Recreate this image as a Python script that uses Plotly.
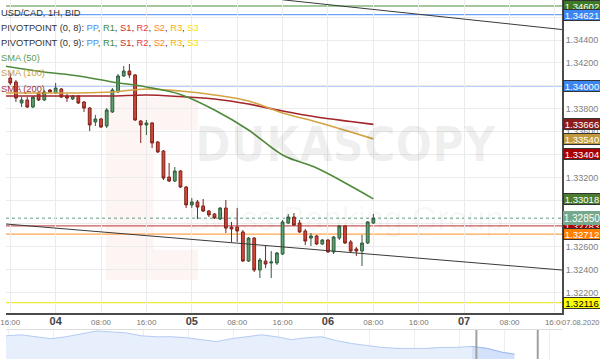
import plotly.graph_objects as go
import pandas as pd

# ---------------- data ----------------
candle_start = "2020-08-03 16:00"
open_ = [1.34069, 1.34035, 1.33852, 1.33878, 1.33817, 1.33939, 1.33878, 1.33965, 1.33939, 1.33974,
         1.33913, 1.33887, 1.33913, 1.33861, 1.33808, 1.33687, 1.33713, 1.33652, 1.33774, 1.33948,
         1.34087, 1.34130, 1.34096, 1.33695, 1.33661, 1.33678, 1.33513, 1.33434, 1.33208, 1.33173,
         1.33260, 1.33121, 1.32965, 1.32991, 1.32956, 1.32912, 1.32886, 1.32843, 1.32938, 1.32773,
         1.32773, 1.32730, 1.32477, 1.32677, 1.32399, 1.32477, 1.32460, 1.32460, 1.32538, 1.32808,
         1.32860, 1.32808, 1.32738, 1.32677, 1.32695, 1.32625, 1.32660, 1.32556, 1.32677, 1.32782,
         1.32643, 1.32582, 1.32564, 1.32634, 1.32808]
high = [1.34113, 1.34052, 1.33904, 1.33904, 1.33913, 1.33948, 1.33965, 1.33974, 1.34026, 1.33982,
        1.33930, 1.33922, 1.33922, 1.33869, 1.33817, 1.33748, 1.33722, 1.33808, 1.33982, 1.34104,
        1.34174, 1.34191, 1.34104, 1.33704, 1.33704, 1.33687, 1.33521, 1.33443, 1.33330, 1.33295,
        1.33269, 1.33130, 1.33025, 1.33008, 1.33017, 1.32921, 1.32895, 1.32947, 1.33008, 1.32817,
        1.32938, 1.32747, 1.32686, 1.32686, 1.32504, 1.32616, 1.32564, 1.32556, 1.32834, 1.32886,
        1.32895, 1.32834, 1.32756, 1.32721, 1.32704, 1.32669, 1.32669, 1.32695, 1.32790, 1.32790,
        1.32660, 1.32599, 1.32704, 1.32825, 1.32886]
low = [1.34008, 1.33861, 1.33817, 1.33808, 1.33808, 1.33869, 1.33869, 1.33939, 1.33930, 1.33895,
       1.33861, 1.33878, 1.33843, 1.33774, 1.33608, 1.33652, 1.33634, 1.33634, 1.33765, 1.33939,
       1.34078, 1.34069, 1.33695, 1.33504, 1.33573, 1.33460, 1.33417, 1.33182, 1.33165, 1.33165,
       1.33112, 1.32938, 1.32938, 1.32843, 1.32904, 1.32860, 1.32843, 1.32834, 1.32721, 1.32643,
       1.32643, 1.32469, 1.32469, 1.32382, 1.32329, 1.32416, 1.32329, 1.32443, 1.32530, 1.32799,
       1.32782, 1.32721, 1.32616, 1.32608, 1.32616, 1.32616, 1.32547, 1.32538, 1.32660, 1.32625,
       1.32547, 1.32521, 1.32434, 1.32625, 1.32799]
close = [1.34026, 1.33895, 1.33878, 1.33817, 1.33904, 1.33878, 1.33948, 1.33948, 1.33982, 1.33904,
         1.33895, 1.33913, 1.33852, 1.33808, 1.33661, 1.33713, 1.33643, 1.33791, 1.33965, 1.34087,
         1.34130, 1.34096, 1.33704, 1.33661, 1.33678, 1.33504, 1.33426, 1.33199, 1.33173, 1.33260,
         1.33121, 1.32965, 1.32991, 1.32947, 1.32912, 1.32878, 1.32852, 1.32938, 1.32764, 1.32756,
         1.32738, 1.32477, 1.32677, 1.32399, 1.32486, 1.32451, 1.32469, 1.32547, 1.32817, 1.32860,
         1.32790, 1.32730, 1.32651, 1.32695, 1.32625, 1.32660, 1.32556, 1.32686, 1.32782, 1.32634,
         1.32564, 1.32564, 1.32634, 1.32817, 1.32850]

sma_times = ["2020-08-03 15:00", "2020-08-03 22:00", "2020-08-04 04:00", "2020-08-04 10:00",
             "2020-08-04 16:00", "2020-08-04 22:00", "2020-08-05 04:00", "2020-08-05 10:00",
             "2020-08-05 16:00", "2020-08-05 22:00", "2020-08-06 04:00", "2020-08-06 08:00"]
sma50 = [1.34174, 1.34122, 1.34087, 1.34035, 1.33991, 1.33926, 1.33791, 1.33617,
         1.33400, 1.33286, 1.33130, 1.33018]
sma100 = [1.33939, 1.33939, 1.33939, 1.33948, 1.33974, 1.33956, 1.33922, 1.33869,
          1.33765, 1.33687, 1.33600, 1.33540]
sma200 = [1.33913, 1.33913, 1.33913, 1.33913, 1.33922, 1.33908, 1.33887, 1.33843,
          1.33782, 1.33730, 1.33691, 1.33666]

# pivot levels
pivot_values = [1.34696, 1.34621, 1.34000, 1.33404, 1.32783, 1.32712, 1.32116]
pivot_labels = ["1.34602", "1.34621", "1.34000", "1.33404", "1.32783", "1.32712", "1.32116"]
pivot_line_colors = ["#4f8f3c", "#6ea2f7", "#6ea2f7", "#b31b1b", "#cf5a5a", "#ffa54a", "#f2ea30"]
pivot_box_colors = ["#3c7a27", "#3b86f2", "#3b86f2", "#a80000", "#a80000", "#ff8000", "#ffff00"]
pivot_text_colors = ["white", "white", "white", "white", "white", "white", "black"]

current_price = 1.32850
current_label = "1.32850"
sma_labels = ["1.33018", "1.33540", "1.33666"]

trend_upper_x = ["2020-08-05 16:00", "2020-08-07 17:15"]
trend_upper_y = [1.34750, 1.34491]
trend_lower_x = ["2020-08-03 15:15", "2020-08-07 17:15"]
trend_lower_y = [1.32799, 1.32399]

x_range = ["2020-08-03 15:15", "2020-08-07 17:15"]
y_range = [1.32025, 1.34748]
tick_times = pd.date_range("2020-08-03 16:00", "2020-08-07 16:00", freq="8h")
tick_labels = ["16:00", "04", "08:00", "16:00", "05", "08:00", "16:00",
               "06", "08:00", "16:00", "07", "08:00", "16:00"]
y_tickvals = [1.322, 1.324, 1.326, 1.328, 1.330, 1.332, 1.334, 1.336, 1.338, 1.340, 1.342, 1.344, 1.346]
y_ticktext = ["1.32200", "1.32400", "1.32600", "", "", "1.33200", "", "1.33600", "1.33800",
              "", "1.34200", "1.34400", ""]

nav_start = "2020-07-03 08:00"
nav_end = "2020-08-09 08:00"
nav_values = [1.3660, 1.3675, 1.3645, 1.3615, 1.3645, 1.3690, 1.3735, 1.3720, 1.3705, 1.3660,
              1.3645, 1.3645, 1.3630, 1.3600, 1.3570, 1.3615, 1.3645, 1.3675, 1.3645, 1.3600,
              1.3630, 1.3645, 1.3585, 1.3540, 1.3510, 1.3480, 1.3465, 1.3465, 1.3465, 1.3480,
              1.3480, 1.3495, 1.3465, 1.3405, 1.3375]

# ---------------- figure ----------------
times = pd.date_range(candle_start, periods=len(close), freq="h")
nav_times = list(pd.date_range(nav_start, periods=len(nav_values) - 1, freq="D")) + [pd.Timestamp("2020-08-06 04:00")]

H = 359.0
main_bottom = 46 / H
nav_top = 29 / H

fig = go.Figure()

# navigator
fig.add_trace(go.Scatter(x=nav_times, y=nav_values, mode="lines", fill="tozeroy",
                         line=dict(color="#b3cbf3", width=1), fillcolor="#e7effc",
                         xaxis="x2", yaxis="y2", showlegend=False, hoverinfo="skip"))
fig.add_trace(go.Scatter(x=nav_times[-4:], y=nav_values[-4:], mode="lines", fill="tozeroy",
                         line=dict(color="#9dbcf0", width=1), fillcolor="#d3e2fa",
                         xaxis="x2", yaxis="y2", showlegend=False, hoverinfo="skip"))

# trend lines
fig.add_trace(go.Scatter(x=trend_upper_x, y=trend_upper_y, mode="lines",
                         line=dict(color="#3a3a3a", width=1), showlegend=False, hoverinfo="skip"))
fig.add_trace(go.Scatter(x=trend_lower_x, y=trend_lower_y, mode="lines",
                         line=dict(color="#3a3a3a", width=1), showlegend=False, hoverinfo="skip"))

# SMAs
for vals, col in [(sma200, "#a3262a"), (sma100, "#d2a443"), (sma50, "#4f8a3a")]:
    fig.add_trace(go.Scatter(x=sma_times, y=vals, mode="lines", line=dict(color=col, width=1.6, shape="spline"),
                             showlegend=False, hoverinfo="skip"))

# candles
fig.add_trace(go.Candlestick(x=times, open=open_, high=high, low=low, close=close,
                             increasing=dict(fillcolor="#5e9f6f", line=dict(color="#2e5c3b", width=1)),
                             decreasing=dict(fillcolor="#d3473a", line=dict(color="#7d241c", width=1)),
                             whiskerwidth=0, showlegend=False))

shapes = []
# watermark logo (faint)
shapes.append(dict(type="rect", xref="paper", yref="paper", x0=0.18, x1=0.345,
                   y0=1 - 280 / H, y1=1 - 97 / H, fillcolor="rgba(220,60,60,0.06)", line=dict(width=0), layer="below"))
shapes.append(dict(type="rect", xref="paper", yref="paper", x0=0.265, x1=0.345,
                   y0=1 - 250 / H, y1=1 - 130 / H, fillcolor="rgba(255,255,255,0.8)", line=dict(width=0), layer="below"))
for v, c in zip(pivot_values, pivot_line_colors):
    shapes.append(dict(type="line", xref="paper", yref="y", x0=0, x1=1, y0=v, y1=v,
                       line=dict(color=c, width=1.2), layer="between"))
shapes.append(dict(type="line", xref="paper", yref="y", x0=0, x1=1, y0=current_price, y1=current_price,
                   line=dict(color="#5f9e80", width=1, dash="dot"), layer="between"))
# navigator handles at the main range
for xv in x_range:
    shapes.append(dict(type="line", xref="x2", yref="y2 domain", x0=xv, x1=xv, y0=0, y1=1,
                       line=dict(color="#a0a0a0", width=2)))

ann = []
F = "Arial, Liberation Sans, sans-serif"
# watermark text
ann.append(dict(xref="paper", yref="paper", x=0.61, y=1 - 144 / H, text="<b>DUKASCOPY</b>", showarrow=False,
                font=dict(family="Liberation Sans Narrow, DejaVu Sans Condensed, Arial", size=48,
                          color="rgba(0,0,0,0.06)")))
ann.append(dict(xref="paper", yref="paper", x=0.61, y=1 - 218 / H, text="Swiss Banking Group", showarrow=False,
                font=dict(family=F, size=33, color="rgba(0,0,0,0.045)")))

# legend texts
leg = [
    ("USD/CAD, 1H, BID", 12.5, "#333333"),
    ("PIVOTPOINT (0, 8): <span style='color:#4a8af4'>PP</span>, <span style='color:#3d8c3d'>R1</span>, "
     "<span style='color:#c43030'>S1</span>, <span style='color:#ea3b3b'>R2</span>, <span style='color:#f28a2e'>S2</span>, "
     "<span style='color:#f2b400'>R3</span>, <span style='color:#f5e100'>S3</span>", 28, "#333333"),
    ("PIVOTPOINT (0, 9): <span style='color:#4a8af4'>PP</span>, <span style='color:#3d8c3d'>R1</span>, "
     "<span style='color:#c43030'>S1</span>, <span style='color:#ea3b3b'>R2</span>, <span style='color:#f28a2e'>S2</span>, "
     "<span style='color:#f2b400'>R3</span>, <span style='color:#f5e100'>S3</span>", 43, "#333333"),
    ("SMA (50)", 58.5, "#5f9a52"),
    ("SMA (100)", 73, "#caa048"),
    ("SMA (200)", 88.5, "#a83030"),
]
for txt, py, col in leg:
    ann.append(dict(xref="paper", yref="paper", x=0, y=1 - py / H, xanchor="left", yanchor="middle",
                    align="left", borderpad=0, xshift=-6,
                    text=txt, showarrow=False, font=dict(family=F, size=9.3, color=col)))

def label(y, txt, bg, fg, size=9.5, border="#333333", h=10):
    return dict(xref="paper", yref="y", x=1, y=y, xanchor="left", yanchor="middle", xshift=1,
                text=txt, showarrow=False, bgcolor=bg, bordercolor=border, borderwidth=1, borderpad=0,
                width=36, height=h, font=dict(family=F, size=size, color=fg))

for v, t, bc, tc in zip(pivot_values, pivot_labels, pivot_box_colors, pivot_text_colors):
    ann.append(label(v, t, bc, tc))
ann.append(label(sma50[-1], sma_labels[0], "#4b7d30", "white"))
ann.append(label(sma100[-1], sma_labels[1], "#c29a3e", "white"))
ann.append(label(sma200[-1], sma_labels[2], "#8b1c1c", "white"))
ann.append(label(current_price, current_label, "#75a98b", "white", size=10, border="#75a98b", h=12))

ann.append(dict(xref="paper", yref="paper", x=1, y=main_bottom, xanchor="left", yanchor="top", yshift=-4,
                xshift=-1, text="07.08.2020", showarrow=False, bgcolor="white", borderpad=0,
                font=dict(family=F, size=7.5, color="#777777")))

ticktext = []
for t in tick_labels:
    if ":" in t:
        ticktext.append(t)
    else:
        ticktext.append("<span style='font-size:11px;color:#444444'><b>" + t + "</b></span>")

fig.update_layout(
    width=600, height=359, margin=dict(l=0, r=38, t=0, b=0),
    paper_bgcolor="white", plot_bgcolor="white",
    font=dict(family=F),
    showlegend=False,
    shapes=shapes, annotations=ann,
    xaxis=dict(type="date", range=x_range, domain=[0, 1], anchor="y",
               tickvals=list(tick_times), ticktext=ticktext, tickfont=dict(size=8, color="#777777"),
               ticklabeloverflow="allow",
               showgrid=True, gridcolor="#ebebeb", gridwidth=1, showline=True, linecolor="#4a4a4a", linewidth=2,
               ticks="", rangeslider=dict(visible=False), zeroline=False),
    yaxis=dict(range=y_range, domain=[main_bottom, 1], side="right", anchor="x",
               tickvals=y_tickvals, ticktext=y_ticktext, tickfont=dict(size=9, color="#808080"),
               showgrid=True, gridcolor="#ebebeb", showline=True, linecolor="#4a4a4a", linewidth=2,
               ticks="", zeroline=False),
    xaxis2=dict(type="date", anchor="y2", domain=[0, 1], range=[nav_start, nav_end],
                showticklabels=False, showgrid=True, gridcolor="#eeeeee", dtick=3 * 86400000,
                tick0="2020-07-03 12:00", showline=True, mirror=True, linecolor="#dddddd", zeroline=False),
    yaxis2=dict(anchor="x2", domain=[0, nav_top], range=[1.3300, 1.3750], showticklabels=False,
                showgrid=False, zeroline=False, showline=False),
)

fig.write_html("out.html")
